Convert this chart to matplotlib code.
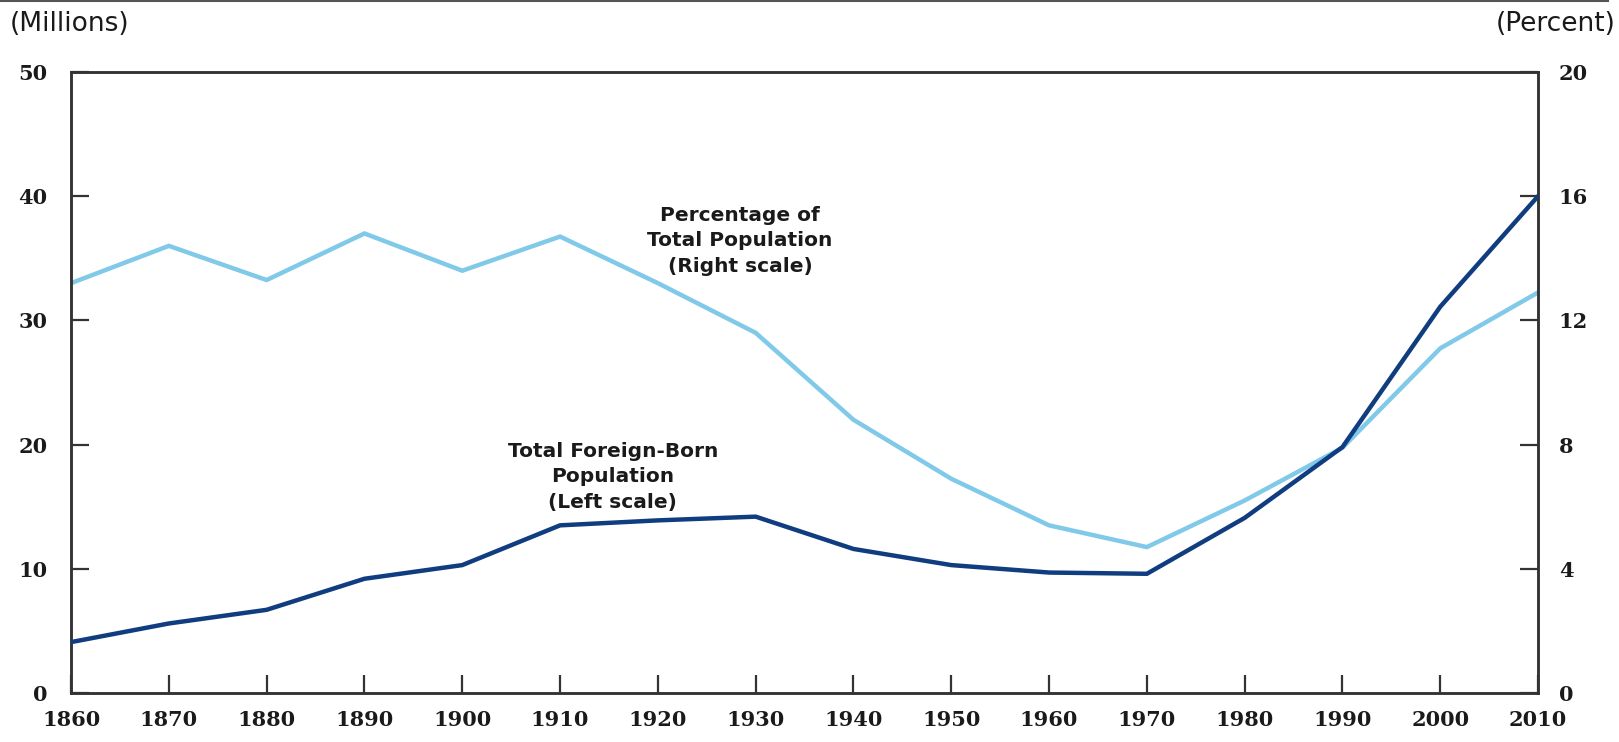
import matplotlib
matplotlib.use("Agg")
import matplotlib.pyplot as plt
from matplotlib.lines import Line2D

# census years
years = [1860, 1870, 1880, 1890, 1900, 1910, 1920, 1930,
         1940, 1950, 1960, 1970, 1980, 1990, 2000, 2010]

# foreign-born population, millions (left scale)
foreign_born = [4.1, 5.6, 6.7, 9.2, 10.3, 13.5, 13.9, 14.2,
                11.6, 10.3, 9.7, 9.6, 14.1, 19.8, 31.1, 40.0]

# share of total population, percent (right scale)
pct_total = [13.2, 14.4, 13.3, 14.8, 13.6, 14.7, 13.2, 11.6,
             8.8, 6.9, 5.4, 4.7, 6.2, 7.9, 11.1, 12.9]

left_ticks = [0, 10, 20, 30, 40, 50]
right_ticks = [0, 4, 8, 12, 16, 20]

DARK = "#0f3d80"
LIGHT = "#80c9e9"
SPINE = "#333333"

fig = plt.figure(figsize=(16.19, 7.42), dpi=100)
ax = fig.add_axes([0.0439, 0.066, 0.9061, 0.837])
ax2 = ax.twinx()

ax.plot(years, foreign_born, color=DARK, lw=3.2, solid_joinstyle="miter", zorder=3)
ax2.plot(years, pct_total, color=LIGHT, lw=3.2, solid_joinstyle="miter", zorder=2)
ax.set_zorder(ax2.get_zorder() + 1)
ax.patch.set_visible(False)

ax.set_xlim(1860, 2010)
ax.set_ylim(0, 50)
ax2.set_ylim(0, 20)
ax.set_xticks(years)
ax.set_yticks(left_ticks)
ax2.set_yticks(right_ticks)

tick_font = dict(family="DejaVu Serif", weight="bold", size=15)
ax.set_xticklabels([str(y) for y in years], **tick_font)
ax.set_yticklabels([str(v) for v in left_ticks], **tick_font)
ax2.set_yticklabels([str(v) for v in right_ticks], **tick_font)

for a in (ax, ax2):
    a.tick_params(direction="in", length=13, width=1.6, color=SPINE,
                  labelcolor="#1a1a1a")
    for s in a.spines.values():
        s.set_color(SPINE)
        s.set_linewidth(1.8)
ax.tick_params(axis="x", pad=12)
ax.tick_params(axis="y", pad=17)
ax2.tick_params(axis="y", pad=15)

ax.text(1928.4, 36.4, "Percentage of\nTotal Population\n(Right scale)",
        ha="center", va="center", fontsize=14.5, fontweight="bold",
        color="#1a1a1a", linespacing=1.45)
ax.text(1915.4, 17.4, "Total Foreign-Born\nPopulation\n(Left scale)",
        ha="center", va="center", fontsize=14.5, fontweight="bold",
        color="#1a1a1a", linespacing=1.45)

fig.text(10 / 1619, 1 - 24 / 742, "(Millions)", ha="left", va="center",
         fontsize=19, color="#1a1a1a")
fig.text(1616 / 1619, 1 - 24 / 742, "(Percent)", ha="right", va="center",
         fontsize=19, color="#1a1a1a")

# thin rule across the top of the image
fig.add_artist(Line2D([0, 1608 / 1619], [0.998, 0.998], transform=fig.transFigure,
                      color="#555555", lw=1.5))

fig.savefig("out.png", dpi=100, facecolor="white")
